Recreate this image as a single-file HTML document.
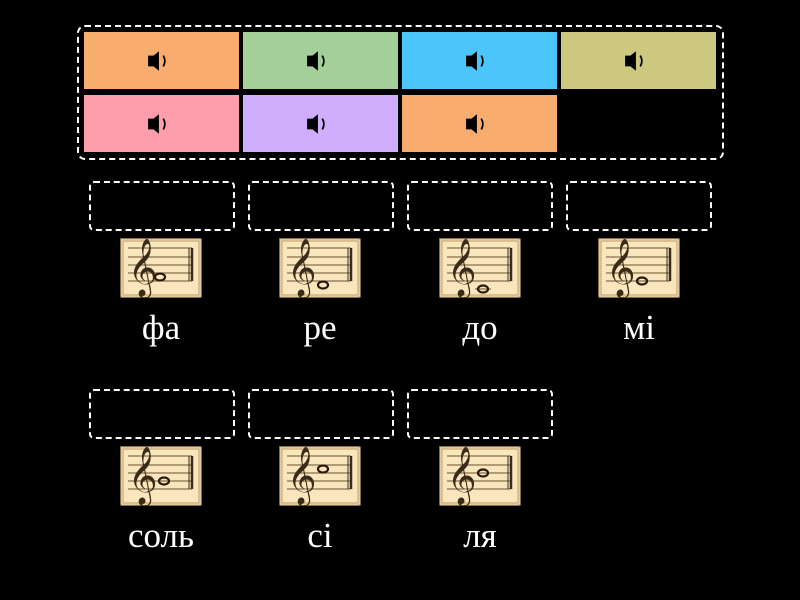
<!DOCTYPE html>
<html><head><meta charset="utf-8"><style>
body{margin:0;width:800px;height:600px;background:#000;position:relative;overflow:hidden;font-family:"Liberation Serif",serif}
.a{position:absolute;box-sizing:border-box}
.tile{position:absolute;height:57px;width:155px}
.tile svg{position:absolute;left:63px;top:18px}
.drop{position:absolute;width:146px;height:50px;border:2px dashed #fff;border-radius:5px;box-sizing:border-box}
.lbl{position:absolute;width:160px;text-align:center;color:#fff;font-size:35px}
.img{position:absolute;width:82px;height:60px}
</style></head><body>
<div class="a" style="left:77px;top:25px;width:647px;height:135px;border:2px dashed #fff;border-radius:8px"></div>

<div class="tile" style="left:84px;top:32px;background:#f8ad6f"><svg width="26" height="22" viewBox="0 0 24 20"><path d="M1 5h5l5-4v18l-5-4H1z" fill="#000"/><path d="M15 5q3 5 0 10" stroke="#000" stroke-width="1.6" fill="none"/></svg></div>
<div class="tile" style="left:243px;top:32px;background:#a5cf98"><svg width="26" height="22" viewBox="0 0 24 20"><path d="M1 5h5l5-4v18l-5-4H1z" fill="#000"/><path d="M15 5q3 5 0 10" stroke="#000" stroke-width="1.6" fill="none"/></svg></div>
<div class="tile" style="left:402px;top:32px;background:#4cc5fc"><svg width="26" height="22" viewBox="0 0 24 20"><path d="M1 5h5l5-4v18l-5-4H1z" fill="#000"/><path d="M15 5q3 5 0 10" stroke="#000" stroke-width="1.6" fill="none"/></svg></div>
<div class="tile" style="left:561px;top:32px;background:#cdc87f"><svg width="26" height="22" viewBox="0 0 24 20"><path d="M1 5h5l5-4v18l-5-4H1z" fill="#000"/><path d="M15 5q3 5 0 10" stroke="#000" stroke-width="1.6" fill="none"/></svg></div>
<div class="tile" style="left:84px;top:95px;background:#fe9eac"><svg width="26" height="22" viewBox="0 0 24 20"><path d="M1 5h5l5-4v18l-5-4H1z" fill="#000"/><path d="M15 5q3 5 0 10" stroke="#000" stroke-width="1.6" fill="none"/></svg></div>
<div class="tile" style="left:243px;top:95px;background:#cfaefe"><svg width="26" height="22" viewBox="0 0 24 20"><path d="M1 5h5l5-4v18l-5-4H1z" fill="#000"/><path d="M15 5q3 5 0 10" stroke="#000" stroke-width="1.6" fill="none"/></svg></div>
<div class="tile" style="left:402px;top:95px;background:#f8ad6f"><svg width="26" height="22" viewBox="0 0 24 20"><path d="M1 5h5l5-4v18l-5-4H1z" fill="#000"/><path d="M15 5q3 5 0 10" stroke="#000" stroke-width="1.6" fill="none"/></svg></div>

<div class="drop" style="left:89px;top:181px"></div>
<div class="drop" style="left:248px;top:181px"></div>
<div class="drop" style="left:407px;top:181px"></div>
<div class="drop" style="left:566px;top:181px"></div>
<div class="drop" style="left:89px;top:389px"></div>
<div class="drop" style="left:248px;top:389px"></div>
<div class="drop" style="left:407px;top:389px"></div>

<svg width="0" height="0" style="position:absolute"><defs>
<g id="st">
<rect x="0.5" y="0.5" width="81" height="59" fill="#f6dfae" stroke="#8a6a40" stroke-width="1.5" stroke-dasharray="2 1"/>
<rect x="3" y="3" width="76" height="54" fill="#f9e6bc" stroke="#b08a58" stroke-width="0.8"/>
<g stroke="#6b5030" stroke-width="0.9"><line x1="8" y1="10" x2="72" y2="10"/><line x1="8" y1="19" x2="72" y2="19"/><line x1="8" y1="27" x2="72" y2="27"/><line x1="8" y1="35" x2="72" y2="35"/><line x1="8" y1="43" x2="72" y2="43"/></g>
<line x1="69" y1="10" x2="69" y2="43" stroke="#3a2a18" stroke-width="1"/><line x1="72" y1="10" x2="72" y2="43" stroke="#3a2a18" stroke-width="2.5"/>
<text x="8" y="46" font-family="DejaVu Sans" font-size="50" fill="#3a2a18">𝄞</text>
</g></defs></svg>

<svg class="img" style="left:120px;top:238px" viewBox="0 0 82 60"><use href="#st"/><ellipse cx="40" cy="39" rx="5" ry="3.5" fill="none" stroke="#2a1a0a" stroke-width="2.2"/></svg>
<svg class="img" style="left:279px;top:238px" viewBox="0 0 82 60"><use href="#st"/><ellipse cx="44" cy="47" rx="5" ry="3.5" fill="none" stroke="#2a1a0a" stroke-width="2.2"/></svg>
<svg class="img" style="left:439px;top:238px" viewBox="0 0 82 60"><use href="#st"/><line x1="36" y1="51" x2="52" y2="51" stroke="#6b5030"/><ellipse cx="44" cy="51" rx="5" ry="3.5" fill="none" stroke="#2a1a0a" stroke-width="2.2"/></svg>
<svg class="img" style="left:598px;top:238px" viewBox="0 0 82 60"><use href="#st"/><ellipse cx="44" cy="43" rx="5" ry="3.5" fill="none" stroke="#2a1a0a" stroke-width="2.2"/></svg>
<svg class="img" style="left:120px;top:446px" viewBox="0 0 82 60"><use href="#st"/><ellipse cx="44" cy="35" rx="5" ry="3.5" fill="none" stroke="#2a1a0a" stroke-width="2.2"/></svg>
<svg class="img" style="left:279px;top:446px" viewBox="0 0 82 60"><use href="#st"/><ellipse cx="44" cy="23" rx="5" ry="3.5" fill="none" stroke="#2a1a0a" stroke-width="2.2"/></svg>
<svg class="img" style="left:439px;top:446px" viewBox="0 0 82 60"><use href="#st"/><ellipse cx="44" cy="27" rx="5" ry="3.5" fill="none" stroke="#2a1a0a" stroke-width="2.2"/></svg>

<div class="lbl" style="left:81px;top:308px">фа</div>
<div class="lbl" style="left:240px;top:308px">ре</div>
<div class="lbl" style="left:400px;top:308px">до</div>
<div class="lbl" style="left:559px;top:308px">мі</div>
<div class="lbl" style="left:81px;top:516px">соль</div>
<div class="lbl" style="left:240px;top:516px">сі</div>
<div class="lbl" style="left:400px;top:516px">ля</div>
</body></html>
